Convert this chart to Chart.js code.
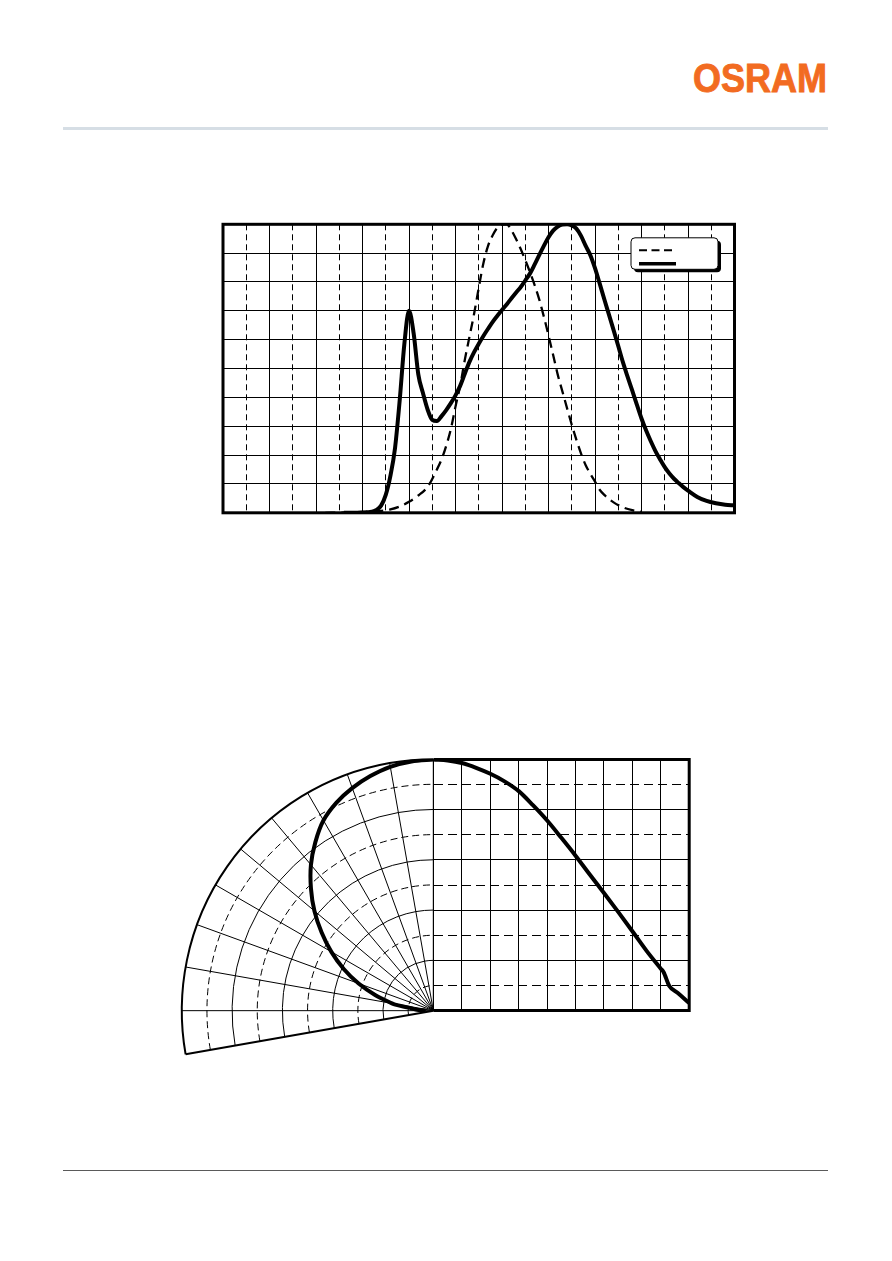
<!DOCTYPE html>
<html>
<head>
<meta charset="utf-8">
<script src="https://cdn.jsdelivr.net/npm/chart.js@4.4.1/dist/chart.umd.min.js"></script>
<style>
    html, body { margin: 0; padding: 0; background: #fff; }
    body { width: 892px; height: 1261px; position: relative; overflow: hidden; }
    #logo { position: absolute; left: 693px; top: 58px; font: bold 40px "Liberation Sans", Arial, sans-serif; line-height: 40px; color: #f26b21; -webkit-text-stroke: 0.9px #f26b21; transform: scaleX(0.9); transform-origin: 0 0; white-space: nowrap; }
    #topRule { position: absolute; left: 63px; top: 127px; width: 765px; height: 3px; background: #d6dee5; }
    #bottomRule { position: absolute; left: 63px; top: 1170px; width: 765px; height: 1px; background: #5a5a5a; }
    canvas { position: absolute; }
</style>
</head>
<body>
<div id="logo">OSRAM</div>
<div id="topRule"></div>
<canvas id="spectrum" width="560" height="340" style="left:200px;top:200px"></canvas>
<canvas id="polar" width="300" height="340" style="left:160px;top:740px"></canvas>
<canvas id="radiation" width="300" height="290" style="left:413px;top:740px"></canvas>
<div id="bottomRule"></div>
<script>
// relative spectral emission (nm)
var emissionWavelength = [380, 400, 405, 410, 415, 420, 425, 430, 435, 440, 445, 450, 455, 460, 465, 470, 475, 480, 485, 490,
    495, 500, 505, 510, 515, 520, 525, 530, 535, 540, 545, 550, 555, 560, 565, 570, 575, 580, 585, 590,
    595, 600, 605, 610, 615, 620, 625, 630, 635, 640, 645, 650, 655, 660, 665, 670, 675, 680, 685, 690,
    695, 700, 705, 710, 715, 720, 725, 730, 735, 740, 745, 750, 760, 770, 780, 790, 800];
var emissionIntensity = [0, 0.001, 0.002, 0.004, 0.01, 0.025, 0.062, 0.128, 0.225, 0.39, 0.585, 0.70, 0.622, 0.48, 0.415, 0.358, 0.322, 0.318, 0.335, 0.356,
    0.38, 0.407, 0.44, 0.482, 0.523, 0.557, 0.586, 0.613, 0.638, 0.662, 0.683, 0.703, 0.722, 0.743, 0.763, 0.782, 0.805, 0.829, 0.86, 0.893,
    0.925, 0.955, 0.978, 0.992, 0.999, 1.0, 0.996, 0.985, 0.96, 0.925, 0.893, 0.848, 0.795, 0.74, 0.687, 0.633, 0.578, 0.522, 0.472, 0.424,
    0.375, 0.327, 0.285, 0.248, 0.214, 0.185, 0.158, 0.136, 0.118, 0.103, 0.089, 0.077, 0.055, 0.041, 0.033, 0.028, 0.026];

// eye response V(lambda)
var eyeWavelength = [360, 380, 400, 420, 430, 440, 450, 460, 470, 480, 485, 490, 495, 500, 505, 510, 515, 520, 525, 530,
    535, 540, 545, 550, 555, 560, 565, 570, 575, 580, 585, 590, 595, 600, 605, 610, 615, 620, 625, 630,
    635, 640, 645, 650, 655, 660, 670, 680, 690, 700];
var eyeResponse = [0, 0.001, 0.003, 0.007, 0.012, 0.022, 0.038, 0.06, 0.09, 0.15, 0.185, 0.232, 0.29, 0.368, 0.44, 0.53, 0.61, 0.69, 0.78, 0.865,
    0.925, 0.962, 0.988, 0.999, 1.0, 0.98, 0.95, 0.915, 0.876, 0.835, 0.79, 0.74, 0.68, 0.615, 0.547, 0.478, 0.42, 0.362, 0.305, 0.253,
    0.205, 0.165, 0.135, 0.108, 0.08, 0.062, 0.036, 0.019, 0.009, 0.003];

// radiation characteristic
var radAngle = [0, 5, 10, 15, 20, 25, 30, 35, 40, 45, 50, 55, 60, 65, 70, 75, 80, 81, 83, 86, 90];
var radIntensity = [1.0, 0.996, 0.986, 0.967, 0.943, 0.913, 0.874, 0.818, 0.757, 0.688, 0.617, 0.542, 0.468, 0.393, 0.316, 0.238, 0.167, 0.153, 0.098, 0.07, 0.03];

var ringValues = [0.1, 0.2, 0.3, 0.4, 0.5, 0.6, 0.7, 0.8, 0.9, 1.0];
var rayAngles = [0, 10, 20, 30, 40, 50, 60, 70, 80, 90, 100];

Chart.defaults.animation = false;
Chart.defaults.plugins.legend.display = false;
Chart.defaults.plugins.tooltip.enabled = false;

function pairs(xs, ys) {
    return xs.map(function(x, i) { return {x: x, y: ys[i]}; });
}

function roundBox(ctx, x, y, w, h, r) {
    ctx.beginPath();
    ctx.moveTo(x + r, y);
    ctx.lineTo(x + w - r, y);
    ctx.arcTo(x + w, y, x + w, y + r, r);
    ctx.lineTo(x + w, y + h - r);
    ctx.arcTo(x + w, y + h, x + w - r, y + h, r);
    ctx.lineTo(x + r, y + h);
    ctx.arcTo(x, y + h, x, y + h - r, r);
    ctx.lineTo(x, y + r);
    ctx.arcTo(x, y, x + r, y, r);
    ctx.closePath();
}

var spectrumFrame = {
    id: 'spectrumFrame',
    afterDatasetsDraw: function(chart) {
        var a = chart.chartArea, ctx = chart.ctx;
        ctx.save();
        ctx.lineWidth = 3;
        ctx.strokeStyle = '#000';
        ctx.strokeRect(a.left, a.top, a.right - a.left, a.bottom - a.top);
        ctx.restore();
    },
    afterDraw: function(chart) {
        // legend box without labels, like the original
        var a = chart.chartArea, ctx = chart.ctx;
        var x0 = a.left + 408, y0 = a.top + 13.5, w = 87, h = 31.5;
        ctx.save();
        ctx.fillStyle = '#000';
        roundBox(ctx, x0 + 3, y0 + 3, w, h, 4);
        ctx.fill();
        ctx.fillStyle = '#fff';
        ctx.strokeStyle = '#000';
        ctx.lineWidth = 1;
        roundBox(ctx, x0, y0, w, h, 4);
        ctx.fill();
        ctx.stroke();
        ctx.lineWidth = 2;
        ctx.setLineDash([8, 4.5]);
        ctx.beginPath();
        ctx.moveTo(x0 + 8, y0 + 12.5);
        ctx.lineTo(x0 + 43, y0 + 12.5);
        ctx.stroke();
        ctx.setLineDash([]);
        ctx.lineWidth = 3.5;
        ctx.beginPath();
        ctx.moveTo(x0 + 8, y0 + 26);
        ctx.lineTo(x0 + 45, y0 + 26);
        ctx.stroke();
        ctx.restore();
    }
};

new Chart(document.getElementById('spectrum'), {
    type: 'line',
    data: {
        datasets: [{
            label: 'V(λ)',
            data: pairs(eyeWavelength, eyeResponse),
            borderColor: '#000',
            borderWidth: 2.3,
            borderDash: [10, 6],
            pointRadius: 0,
            cubicInterpolationMode: 'monotone'
        }, {
            label: 'Irel',
            data: pairs(emissionWavelength, emissionIntensity),
            borderColor: '#000',
            borderWidth: 4,
            pointRadius: 0,
            cubicInterpolationMode: 'monotone'
        }]
    },
    options: {
        responsive: false,
        layout: { padding: { left: 23, top: 24.3, right: 25.5, bottom: 27.2 } },
        scales: {
            x: {
                type: 'linear', min: 250, max: 800,
                ticks: { display: false, stepSize: 25 },
                grid: { color: '#000', lineWidth: 1, drawTicks: false },
                border: {
                    display: false,
                    dash: function(c) { return c.tick && c.tick.value % 50 !== 0 ? [6, 4] : []; }
                }
            },
            y: {
                min: 0, max: 1,
                ticks: { display: false, stepSize: 0.1 },
                grid: { color: '#000', lineWidth: 1, drawTicks: false },
                border: { display: false }
            }
        }
    },
    plugins: [spectrumFrame]
});

// polar half of the radiation diagram
var polarGrid = {
    id: 'polarGrid',
    beforeDatasetsDraw: function(chart) {
        var xs = chart.scales.x, ys = chart.scales.y, ctx = chart.ctx;
        var cx = xs.getPixelForValue(0), cy = ys.getPixelForValue(0);
        var unit = cx - xs.getPixelForValue(-1);
        var start = -Math.PI / 2 - 100 * Math.PI / 180, end = -Math.PI / 2;
        ctx.save();
        ctx.strokeStyle = '#000';
        ringValues.forEach(function(r) {
            var odd = Math.round(r * 10) % 2 === 1;
            ctx.lineWidth = r === 1 ? 2 : 1;
            ctx.setLineDash(odd ? [7, 4] : []);
            ctx.beginPath();
            ctx.arc(cx, cy, r * unit, start, end);
            ctx.stroke();
        });
        ctx.setLineDash([]);
        rayAngles.forEach(function(a) {
            var t = a * Math.PI / 180;
            ctx.lineWidth = a === 100 ? 2 : 1;
            ctx.beginPath();
            ctx.moveTo(cx, cy);
            ctx.lineTo(cx - unit * Math.sin(t), cy - unit * Math.cos(t));
            ctx.stroke();
        });
        ctx.restore();
    }
};

new Chart(document.getElementById('polar'), {
    type: 'scatter',
    data: {
        datasets: [{
            data: radAngle.map(function(a, i) {
                var t = a * Math.PI / 180;
                return {x: -radIntensity[i] * Math.sin(t), y: radIntensity[i] * Math.cos(t)};
            }),
            showLine: true,
            borderColor: '#000',
            borderWidth: 4,
            pointRadius: 0,
            tension: 0.3
        }]
    },
    options: {
        responsive: false,
        layout: { padding: { left: 21.8, top: 19.5, right: 26.7, bottom: 19.1 } },
        scales: {
            x: { type: 'linear', min: -1, max: 0, display: false },
            y: { type: 'linear', min: -0.2, max: 1, display: false }
        }
    },
    plugins: [polarGrid]
});

// cartesian half of the radiation diagram
var radiationFrame = {
    id: 'radiationFrame',
    afterDatasetsDraw: function(chart) {
        var a = chart.chartArea, ctx = chart.ctx;
        ctx.save();
        ctx.lineWidth = 3;
        ctx.strokeStyle = '#000';
        ctx.beginPath();
        ctx.moveTo(a.left, a.top);
        ctx.lineTo(a.right, a.top);
        ctx.lineTo(a.right, a.bottom);
        ctx.lineTo(a.left, a.bottom);
        ctx.stroke();
        ctx.restore();
    }
};

new Chart(document.getElementById('radiation'), {
    type: 'line',
    data: {
        datasets: [{
            data: pairs(radAngle, radIntensity),
            borderColor: '#000',
            borderWidth: 4,
            pointRadius: 0,
            cubicInterpolationMode: 'monotone'
        }]
    },
    options: {
        responsive: false,
        layout: { padding: { left: 20.5, top: 19.5, right: 23.8, bottom: 19.4 } },
        scales: {
            x: {
                type: 'linear', min: 0, max: 90,
                ticks: { display: false, stepSize: 10 },
                grid: { color: '#000', lineWidth: 1, drawTicks: false },
                border: { display: false }
            },
            y: {
                min: 0, max: 1,
                ticks: { display: false, stepSize: 0.1 },
                grid: { color: '#000', lineWidth: 1, drawTicks: false },
                border: {
                    display: false,
                    dash: function(c) { return c.tick && Math.round(c.tick.value * 10) % 2 === 1 ? [9, 5] : []; }
                }
            }
        }
    },
    plugins: [radiationFrame]
});
</script>
</body>
</html>
